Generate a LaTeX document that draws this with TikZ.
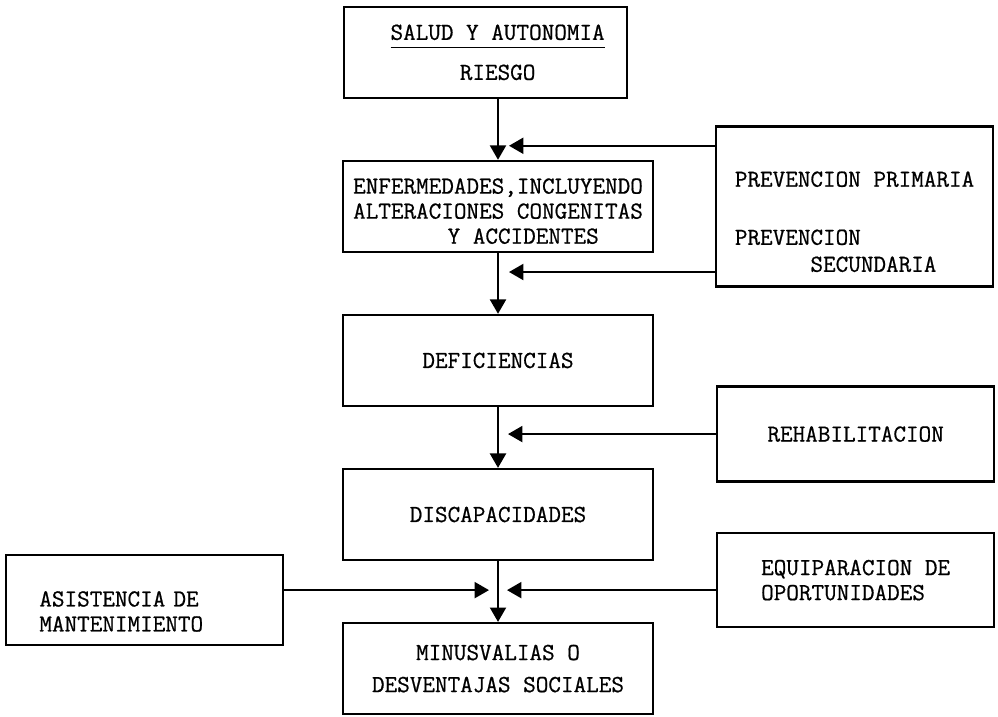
\documentclass[tikz,border=0pt]{standalone}
\usepackage{fontspec}
\setmonofont[FakeBold=0.7]{Latin Modern Mono}
\usetikzlibrary{arrows.meta,positioning}
\newcommand{\typew}{\ttfamily\fontsize{17.4}{17.8}\selectfont}
\tikzset{
  box/.style  ={rectangle,draw,line width=1.6pt,minimum width=7.75cm,
                minimum height=2.275cm,inner xsep=3pt,align=center,font=\typew},
  side/.style ={rectangle,draw,line width=1.6pt,minimum width=6.925cm,
                minimum height=2.35cm,align=left,font=\typew},
  arr/.style  ={-{Triangle[length=0.36cm,width=0.4cm]},line width=1.5pt}
}
\begin{document}
\begin{tikzpicture}[node distance=1.52cm and 1.52cm]
  \useasboundingbox (0,0) rectangle (24.95,17.9);
  \node (enf)    [box] at (12.45,12.74) {\rule{0pt}{0.62cm}ENFERMEDADES,INCLUYENDO\\ALTERACIONES CONGENITAS\\\phantom{XXXX}Y ACCIDENTES};
  \node (salud)  [box, minimum width=7.075cm, above=of enf, xshift=-0.31cm] {\hspace*{0.6cm}\underline{\vphantom{g}SALUD Y AUTONOMIA}\\[10.7pt]\hspace*{0.6cm}RIESGO};
  \node (defic)  [box, below=of enf]    {DEFICIENCIAS};
  \node (discap) [box, below=of defic]  {DISCAPACIDADES};
  \node (minus)  [box, below=of discap] {MINUSVALIAS O\\[5pt]DESVENTAJAS SOCIALES};

  \coordinate (j1) at ([yshift=0.35cm]enf.north);
  \coordinate (j2) at ([yshift=-0.475cm]enf.south);
  \coordinate (j3) at ([yshift=-0.675cm]defic.south);
  \coordinate (j4) at ([yshift=-0.725cm]discap.south);

  \node (prev)   [side, minimum height=4cm, right=of enf] {\rule{0pt}{1.15cm}PREVENCION PRIMARIA\\[23.5pt]PREVENCION\\[1.4pt]\phantom{PREVEN}SECUNDARIA};
  \node (rehab)  [side, minimum height=2.375cm, right=5.45cm of j3] {REHABILITACION};
  \node (equip)  [side, right=5.45cm of j4, yshift=0.25cm] {EQUIPARACION DE\\OPORTUNIDADES};
  \node (asist)  [side, minimum height=2.25cm, text width=5.25cm, inner xsep=0.825cm, text height=0.95cm, left=5.35cm of j4, yshift=-0.25cm] {ASISTENCIA DE\\MANTENIMIENTO};

  \draw [arr] (enf.north |- salud.south) -- (enf.north);
  \draw [arr] (enf) -- (defic);
  \draw [arr] (defic) -- (discap);
  \draw [arr] (discap) -- (minus);
  \draw [arr] (prev.west |- j1) -- ([xshift=0.275cm]j1);
  \draw [arr] (prev.west |- j2) -- ([xshift=0.275cm]j2);
  \draw [arr] (rehab) -- ([xshift=0.25cm]j3);
  \draw [arr] (equip.west |- j4) -- ([xshift=0.225cm]j4);
  \draw [arr] (asist.east |- j4) -- ([xshift=-0.225cm]j4);
\end{tikzpicture}
\end{document}
